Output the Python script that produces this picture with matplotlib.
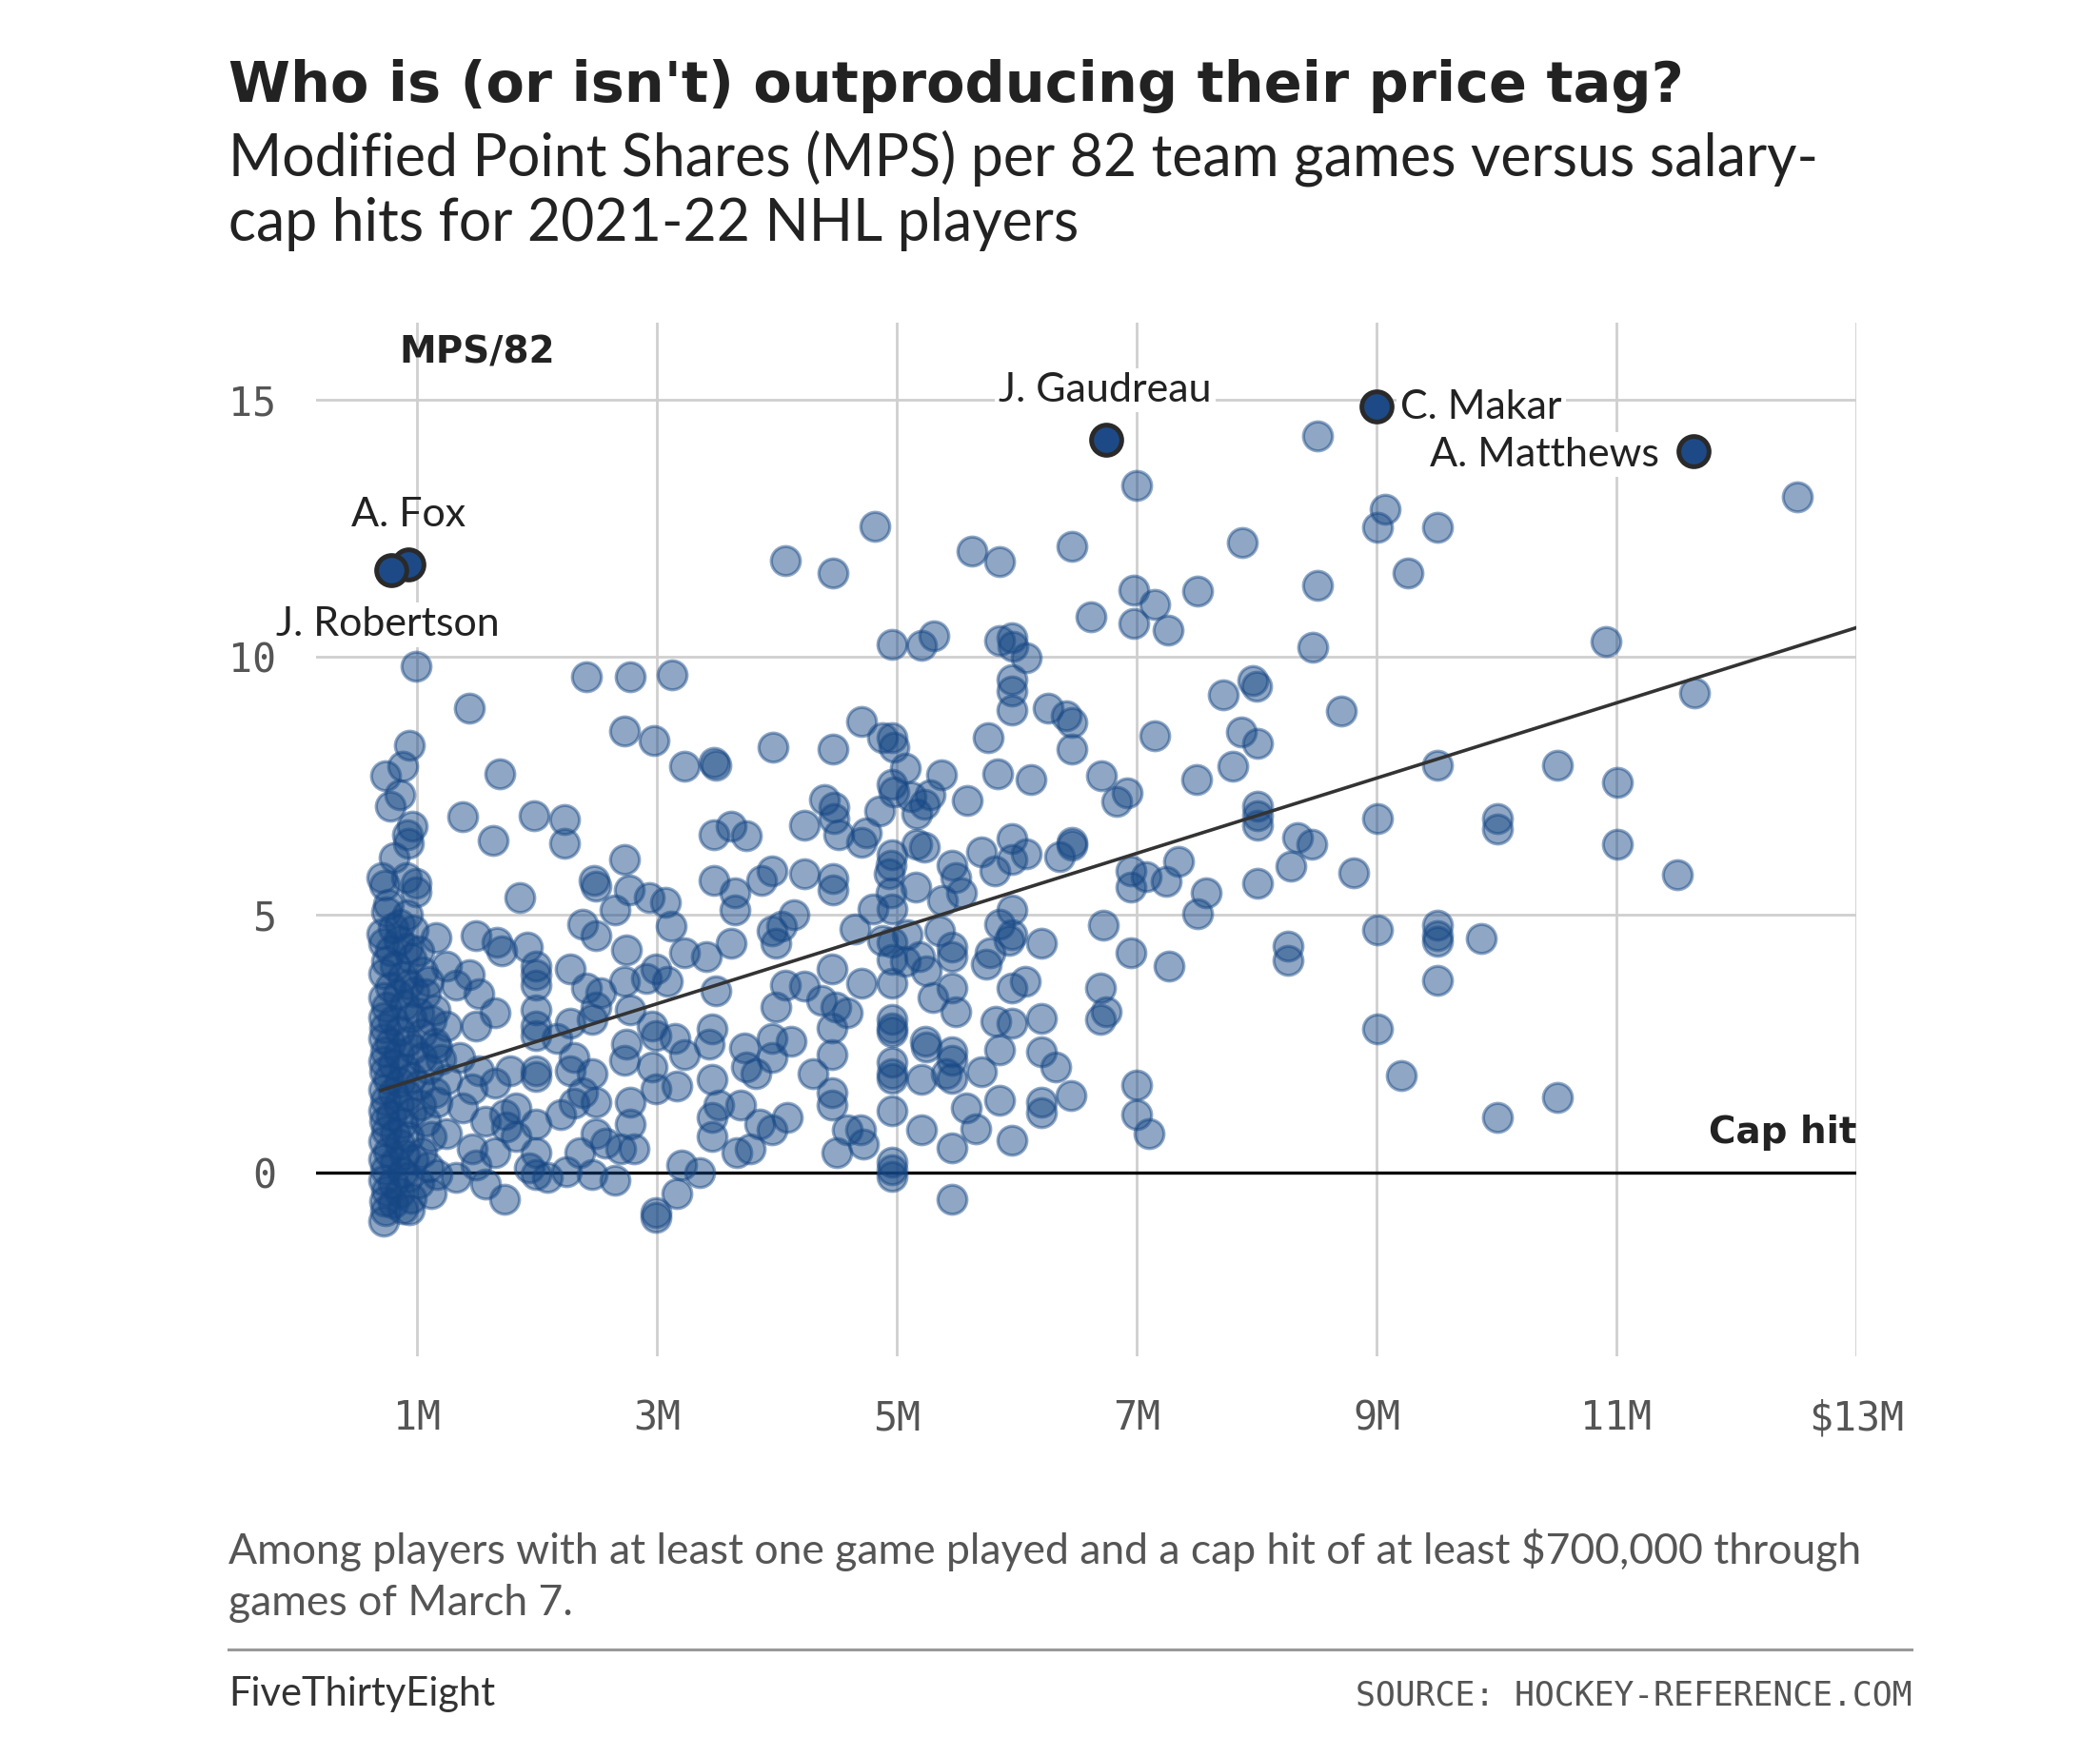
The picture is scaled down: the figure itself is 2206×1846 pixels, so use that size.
import numpy as np
import matplotlib
matplotlib.use("Agg")
import matplotlib.pyplot as plt
from matplotlib.lines import Line2D

# ---------------- data (cap hit in $M, MPS per 82 games) ----------------
pts_entry = [
    (0.99, 9.82), (0.94, 8.29), (0.88, 7.88), (0.74, 7.70), (0.86, 7.33), (0.78, 7.11),
    (0.96, 6.71), (0.92, 6.56), (0.93, 6.38), (0.81, 6.10), (0.71, 5.73), (0.91, 5.73),
    (0.99, 5.61), (0.99, 5.45), (0.73, 5.58), (0.75, 5.05), (0.76, 5.20), (0.92, 5.00),
    (0.86, 4.81), (0.71, 4.63), (0.80, 4.75), (0.97, 4.70),
    (0.72, 4.45), (0.78, 4.30), (0.85, 4.50), (0.92, 4.35), (0.75, 4.10), (0.82, 4.00),
    (0.95, 4.15), (0.72, 3.85), (0.88, 3.80), (0.78, 3.60), (0.93, 3.65), (0.72, 3.40),
    (0.84, 3.45), (0.98, 3.50), (0.75, 3.20), (0.90, 3.25), (0.72, 3.00), (0.80, 2.95),
    (0.95, 3.00), (0.73, 2.80), (0.86, 2.75), (0.72, 2.60), (0.78, 2.50), (0.92, 2.55),
    (0.74, 2.35), (0.85, 2.30), (0.97, 2.40), (0.72, 2.15), (0.80, 2.10), (0.90, 2.00),
    (0.73, 1.95), (0.76, 1.80), (0.86, 1.75), (0.95, 1.85), (0.72, 1.60), (0.80, 1.55),
    (0.92, 1.50), (0.74, 1.40), (0.85, 1.30), (0.72, 1.20), (0.79, 1.10), (0.95, 1.15),
    (0.73, 1.00), (0.88, 0.95), (0.75, 0.80), (0.82, 0.75), (0.93, 0.70), (0.72, 0.60),
    (0.86, 0.55), (0.76, 0.40), (0.90, 0.35), (0.72, 0.25), (0.82, 0.20), (0.97, 0.25),
    (0.74, 0.05), (0.88, 0.00), (0.72, -0.15), (0.80, -0.20), (0.92, -0.10), (0.75, -0.35),
    (0.86, -0.40), (0.73, -0.55), (0.80, -0.60), (0.95, -0.50), (0.74, -0.75), (0.72, -0.95),
    (0.88, -0.70), (0.94, -0.72),
]

pts_low = [
    (1.44, 9.01), (1.69, 7.74), (1.38, 6.91), (1.98, 6.93), (1.64, 6.45), (1.86, 5.33),
    (1.16, 4.56), (1.49, 4.60), (1.67, 4.47), (1.92, 4.38),
    (1.02, 4.30), (1.05, 3.90), (1.10, 3.70), (1.07, 3.46), (1.02, 3.10), (1.12, 2.95),
    (1.04, 2.70), (1.15, 2.50), (1.04, 2.23), (1.10, 2.00), (1.02, 1.70), (1.15, 1.55),
    (1.07, 1.00), (1.03, 1.30), (1.12, 0.70), (1.04, 0.39), (1.10, 0.10), (1.02, -0.20),
    (1.12, -0.41), (1.25, 4.01), (1.20, 2.20),
    (1.99, 4.01), (1.99, 3.83), (1.99, 3.64), (1.99, 3.15), (1.99, 2.84), (1.99, 2.66),
    (1.99, 1.98), (1.99, 1.86), (1.99, 0.94), (1.99, 0.39), (1.99, -0.04), (1.94, 0.08),
    (1.44, 3.83), (1.33, 3.64), (1.52, 3.46), (1.65, 3.09), (1.49, 2.84), (1.25, 2.84),
    (1.15, 3.15), (1.17, 2.41), (1.36, 2.23), (1.52, 1.98), (1.65, 1.74), (1.46, 1.62),
    (1.25, 1.80), (1.17, 1.37), (1.38, 1.25), (1.57, 1.00), (1.75, 0.88), (1.83, 0.69),
    (1.25, 0.76), (1.46, 0.45), (1.65, 0.39), (1.49, 0.14), (1.33, -0.10), (1.17, -0.04),
    (1.57, -0.23), (1.73, -0.53), (1.78, 1.98), (1.83, 1.25), (1.73, 1.12), (2.09, -0.10),
    (2.20, 1.12), (1.71, 4.30),
]

pts_mid = [
    (2.41, 9.62), (2.78, 9.61), (3.13, 9.66), (2.73, 8.57), (2.98, 8.38), (3.23, 7.89),
    (3.48, 7.96), (3.49, 7.91), (2.23, 6.84), (2.23, 6.38), (2.73, 6.07), (2.48, 5.67),
    (2.49, 5.55), (2.77, 5.49), (2.94, 5.33), (3.07, 5.24), (2.65, 5.09), (3.48, 6.56),
    (3.62, 6.71), (3.75, 6.53), (3.48, 5.67), (3.65, 5.42), (3.65, 5.09),
    (2.38, 4.81), (2.49, 4.60), (3.12, 4.78),
    (2.28, 3.95), (2.41, 3.58), (2.53, 3.49), (2.49, 3.21), (2.46, 2.97), (2.28, 2.90),
    (2.17, 2.60), (2.31, 2.23), (2.28, 1.98), (2.46, 1.92), (2.38, 1.55), (2.31, 1.34),
    (2.49, 1.37), (2.49, 0.76), (2.57, 0.57), (2.70, 0.45), (2.81, 0.45), (2.36, 0.39),
    (2.25, 0.02), (2.65, -0.16), (2.46, -0.04),
    (2.75, 4.32), (2.73, 3.70), (2.78, 3.15), (2.91, 3.76), (2.99, 3.95), (3.09, 3.70),
    (3.23, 4.26), (3.41, 4.19), (3.62, 4.44), (3.49, 3.52), (3.46, 2.78), (3.44, 2.48),
    (3.23, 2.29), (3.15, 2.60), (2.99, 2.66), (2.96, 2.84), (2.75, 2.48), (2.73, 2.17),
    (2.96, 2.05), (2.99, 1.62), (3.17, 1.68), (3.46, 1.80), (3.52, 1.31), (3.46, 1.06),
    (3.46, 0.69), (3.67, 0.39), (3.36, -0.01), (3.21, 0.14), (3.17, -0.41), (2.99, -0.78),
    (2.99, -0.87), (3.73, 2.41), (3.75, 2.05), (2.78, 0.94), (2.78, 1.37),
]

pts_upper = [
    (4.07, 11.87), (4.47, 11.63), (4.82, 12.53), (5.63, 12.06), (5.86, 11.85), (6.46, 12.14),
    (7.00, 13.34), (6.98, 11.30), (6.62, 10.79), (6.98, 10.66), (4.96, 10.24), (5.21, 10.23),
    (5.31, 10.42), (5.86, 10.32), (5.96, 10.38), (5.97, 10.21), (6.08, 9.99), (5.96, 9.57),
    (5.96, 9.35), (5.96, 8.97), (6.26, 9.01), (6.41, 8.86), (6.46, 8.74), (6.46, 8.22),
    (6.71, 7.69), (6.83, 7.20), (6.92, 7.36), (5.76, 8.44), (5.84, 7.74), (6.12, 7.63),
    (5.59, 7.21), (4.71, 8.75), (3.97, 8.25), (4.47, 8.22), (4.88, 8.43), (4.96, 8.43),
    (4.98, 8.25), (5.07, 7.85), (5.37, 7.72), (4.96, 7.54), (4.98, 7.39), (5.12, 7.29),
    (5.28, 7.32), (5.23, 7.14), (5.17, 6.96), (4.86, 7.02), (4.40, 7.23), (4.48, 7.08),
    (4.48, 6.86), (4.52, 6.56), (4.23, 6.74), (4.75, 6.59), (4.71, 6.40), (4.96, 6.16),
    (4.95, 5.97), (4.94, 5.79), (4.95, 5.42), (5.17, 6.37), (5.23, 6.31), (5.16, 5.54),
    (5.46, 5.97), (5.49, 5.73), (5.54, 5.42), (5.38, 5.27), (5.71, 6.22), (5.82, 5.85),
    (5.96, 6.47), (5.96, 6.07), (6.08, 6.19), (6.36, 6.13), (6.46, 6.40), (6.46, 6.34),
    (6.95, 5.85), (6.95, 5.54), (3.96, 5.85), (3.87, 5.67), (4.23, 5.79), (4.47, 5.70),
    (4.47, 5.48), (4.14, 5.00), (5.96, 5.10), (6.72, 4.80),
    (3.96, 4.69), (4.04, 4.78), (3.99, 4.44), (4.65, 4.72), (4.80, 5.12), (4.96, 5.12),
    (5.09, 4.62), (4.88, 4.50), (4.96, 4.47), (4.96, 4.13), (5.07, 4.10), (5.19, 4.19),
    (5.25, 3.92), (5.36, 4.69), (5.46, 4.38), (5.46, 4.19), (5.86, 4.81), (5.96, 4.62),
    (5.94, 4.50), (5.78, 4.26), (5.75, 4.04), (6.21, 4.44), (5.96, 3.58), (6.07, 3.70),
    (5.46, 3.58), (5.49, 3.12), (5.30, 3.40), (4.96, 3.67), (4.71, 3.67), (4.46, 3.95),
    (4.23, 3.61), (4.07, 3.64), (3.99, 3.21), (4.37, 3.33), (4.49, 3.21), (4.59, 3.09),
    (4.46, 2.81), (4.96, 2.97), (4.96, 2.81), (4.96, 2.72), (5.24, 2.54), (5.25, 2.44),
    (5.46, 2.35), (5.46, 2.17), (5.41, 1.92), (5.46, 1.83), (5.21, 1.80), (4.96, 2.14),
    (4.96, 1.92), (4.96, 1.83), (4.96, 1.19), (5.71, 1.95), (5.86, 2.38), (5.83, 2.94),
    (5.96, 2.90), (6.21, 2.99), (6.21, 2.35), (6.33, 2.05), (6.45, 1.49), (6.21, 1.37),
    (6.21, 1.16), (5.86, 1.40), (5.58, 1.25), (5.66, 0.85), (5.21, 0.82), (5.46, 0.48),
    (5.96, 0.63), (4.96, 0.20), (4.96, 0.05), (4.96, -0.07), (5.46, -0.53), (6.95, 4.26),
    (6.70, 3.58), (6.75, 3.12), (6.70, 2.97), (7.00, 1.70), (7.00, 1.13), (7.10, 0.75),
    (4.30, 1.92), (4.46, 1.55), (4.46, 1.31), (4.59, 0.82), (4.70, 0.82), (4.72, 0.54),
    (4.50, 0.39), (3.96, 2.60), (4.12, 2.54), (3.96, 2.23), (3.83, 1.92), (4.46, 2.29),
    (4.09, 1.06), (3.96, 0.82), (3.86, 0.94), (3.78, 0.45), (3.70, 1.31),
]

pts_high = [
    (8.51, 14.29), (12.51, 13.11), (9.07, 12.87), (9.01, 12.51), (9.51, 12.51), (7.88, 12.22),
    (9.26, 11.63), (8.51, 11.40), (7.51, 11.29), (7.15, 11.02), (7.26, 10.53), (8.47, 10.20),
    (10.91, 10.31), (7.97, 9.54), (8.00, 9.43), (7.72, 9.27), (8.71, 8.96), (11.65, 9.31),
    (7.15, 8.48), (7.87, 8.55), (8.01, 8.32), (7.80, 7.89), (7.50, 7.63), (9.51, 7.90),
    (10.51, 7.90), (11.01, 7.56), (8.01, 7.10), (8.01, 6.93), (8.01, 6.73), (8.34, 6.50),
    (8.46, 6.37), (9.01, 6.87), (10.01, 6.87), (10.01, 6.67), (11.01, 6.37), (11.51, 5.78),
    (8.81, 5.81), (8.29, 5.94), (8.01, 5.61), (7.35, 6.04), (7.08, 5.74), (7.25, 5.65),
    (7.58, 5.42), (7.51, 5.02), (8.26, 4.40), (8.26, 4.12), (7.27, 4.00), (9.01, 4.71),
    (9.51, 4.80), (9.51, 4.59), (9.51, 4.49), (9.87, 4.54), (9.51, 3.73), (9.01, 2.78),
    (9.21, 1.88), (10.01, 1.07), (10.51, 1.45),
]

star_names = ["A. Fox", "J. Robertson", "J. Gaudreau", "C. Makar", "A. Matthews"]
star_cap = [0.93, 0.79, 6.75, 9.00, 11.64]
star_mps = [11.80, 11.68, 14.22, 14.87, 14.00]

trend_intercept = 1.08
trend_slope = 0.73
trend_x = [0.7, 13.0]

x_ticks = [1, 3, 5, 7, 9, 11, 13]
x_tick_labels = ["1M", "3M", "5M", "7M", "9M", "11M", "$13M"]
y_ticks = [0, 5, 10, 15]
y_tick_labels = ["0", "5", "10", "15"]

# ---------------- figure ----------------
W, H = 2206, 1846
fig = plt.figure(figsize=(W / 200, H / 200), dpi=200)
fig.patch.set_facecolor("white")

SANS = ["Lato", "DejaVu Sans"]
HEAVY = ["DejaVu Sans"]
MONO = ["DejaVu Sans Mono"]

ax_l, ax_r, ax_t, ax_b = 332, 1950, 339, 1425
ax = fig.add_axes([ax_l / W, 1 - ax_b / H, (ax_r - ax_l) / W, (ax_b - ax_t) / H])
ax.set_xlim(0.16, 13.0)
ax.set_ylim(-3.57, 16.49)
for s in ax.spines.values():
    s.set_visible(False)

ax.set_xticks(x_ticks)
ax.set_xticklabels(x_tick_labels, family=MONO, fontsize=15, color="#555555")
ax.set_yticks(y_ticks)
ax.set_yticklabels(y_tick_labels, family=MONO, fontsize=15, color="#555555")
ax.tick_params(axis="both", length=0)
ax.tick_params(axis="x", pad=16)
ax.tick_params(axis="y", pad=15)
ax.grid(True, color="#cfcfcf", linewidth=1.0, zorder=0)
ax.set_axisbelow(True)
ax.axhline(0, color="black", linewidth=1.2, zorder=1)

all_pts = np.array(pts_entry + pts_low + pts_mid + pts_upper + pts_high)
ax.scatter(all_pts[:, 0], all_pts[:, 1], s=120, color="#164785", alpha=0.48,
           edgecolors="#164785", linewidths=1.2, zorder=2)

tx = np.array(trend_x)
ax.plot(tx, trend_intercept + trend_slope * tx, color="#333333", linewidth=1.3, zorder=3)

ax.scatter(star_cap, star_mps, s=130, color="#1d4a87", edgecolors="#2a2a2a",
           linewidths=1.8, zorder=4)

bbox = dict(facecolor="white", edgecolor="none", pad=1.5)
LBL = 15.5
ax.text(0.93, 12.76, "A. Fox", family=SANS, fontsize=LBL, color="#222222",
        ha="center", va="center", zorder=5)
ax.text(0.76, 10.63, "J. Robertson", family=SANS, fontsize=LBL, color="#222222",
        ha="center", va="center", bbox=bbox, zorder=5)
ax.text(6.74, 15.18, "J. Gaudreau", family=SANS, fontsize=LBL, color="#222222",
        ha="center", va="center", bbox=bbox, zorder=5)
ax.text(9.20, 14.84, "C. Makar", family=SANS, fontsize=LBL, color="#222222",
        ha="left", va="center", bbox=bbox, zorder=5)
ax.text(11.36, 13.93, "A. Matthews", family=SANS, fontsize=LBL, color="#222222",
        ha="right", va="center", bbox=bbox, zorder=5)

ax.text(0.85, 15.9, "MPS/82", family=HEAVY, fontsize=14, fontweight="bold",
        color="#222222", ha="left", va="center", zorder=5)
ax.text(13.0, 0.78, "Cap hit", family=HEAVY, fontsize=14, fontweight="bold",
        color="#222222", ha="right", va="center", zorder=5)

# ---------------- header / footer ----------------
def fx(px):
    return px / W

def fy(py):
    return 1 - py / H

fig.text(fx(240), fy(107), "Who is (or isn't) outproducing their price tag?",
         family=HEAVY, fontsize=21.2, fontweight="bold", color="#222222", va="baseline")
fig.text(fx(240), fy(184), "Modified Point Shares (MPS) per 82 team games versus salary-",
         family=SANS, fontsize=21.9, color="#222222", va="baseline")
fig.text(fx(240), fy(253), "cap hits for 2021-22 NHL players",
         family=SANS, fontsize=21.9, color="#222222", va="baseline")

fig.text(fx(240), fy(1643),
         "Among players with at least one game played and a cap hit of at least $700,000 through",
         family=SANS, fontsize=16, color="#555555", va="baseline")
fig.text(fx(240), fy(1697), "games of March 7.",
         family=SANS, fontsize=16, color="#555555", va="baseline")

fig.add_artist(Line2D([fx(240), fx(2008)], [fy(1733), fy(1733)], color="#999999",
                      linewidth=1.1))
fig.text(fx(240), fy(1792), "FiveThirtyEight", family=SANS, fontsize=15,
         color="#333333", va="baseline")
fig.text(fx(2008), fy(1792), "SOURCE: HOCKEY-REFERENCE.COM", family=MONO, fontsize=12.5,
         color="#555555", va="baseline", ha="right")

fig.savefig("out.png", dpi=200, facecolor="white")
